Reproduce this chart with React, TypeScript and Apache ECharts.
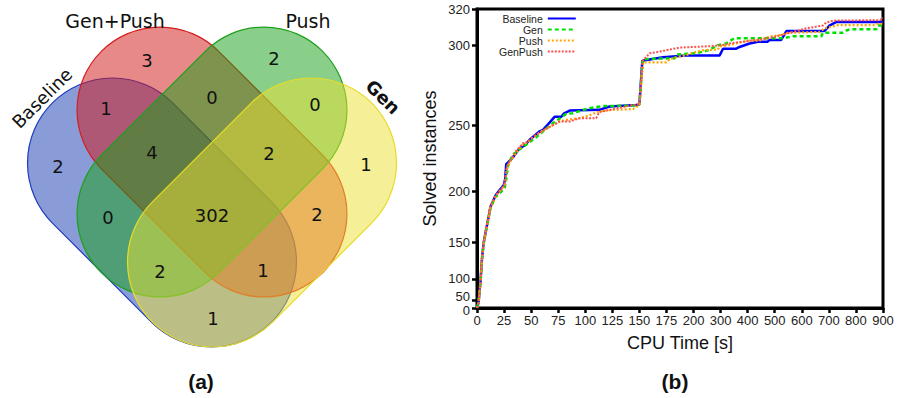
import React, { useEffect, useRef } from 'react';
import * as echarts from 'echarts';

// ---------- data: line chart (b) ----------
const cpuTimeTickLabels = ['0', '25', '50', '75', '100', '125', '150', '175', '200', '300', '400', '500', '600', '700', '800', '900'];
const solvedTickValues = [0, 50, 100, 150, 200, 250, 300, 320];
const seriesNames = ['Baseline', 'Gen', 'Push', 'GenPush'];

// [CPU time (s), solved instances]
const baselineData: [number, number][] = [
  [0, 0], [0.5, 25], [1.5, 45], [2.5, 80], [3.2, 95], [4.6, 130], [6, 148], [7.8, 160], [10.8, 177], [12.4, 186],
  [17, 196], [20, 200], [24.6, 205], [26, 210], [27, 222], [30.8, 225], [35, 229], [39.4, 234], [44, 236], [48.6, 240],
  [57.9, 246], [61, 247], [67, 252], [71.8, 256], [78, 256], [80, 258], [85.6, 260], [113, 260.5], [122.5, 262.7],
  [147, 263.7], [150, 264], [152.7, 291], [171.8, 293], [193, 294], [296, 294], [309, 298], [358, 298], [370, 299],
  [407, 301], [438, 302], [474, 302], [481, 303], [524, 303], [543, 308], [684, 308], [702, 311], [728, 313], [900, 313],
];
const genData: [number, number][] = [
  [0, 0], [0.5, 28], [1.5, 48], [2.5, 78], [3.2, 93], [4.6, 128], [6, 147], [7.8, 160], [10.8, 176], [12.4, 185],
  [17, 195], [20, 197], [25.6, 203], [27, 210], [28.6, 221], [33, 229], [39.4, 233], [48, 238], [55, 242], [61, 246],
  [70, 251.6], [77, 255], [82.6, 258], [88, 258.3], [104, 261.6], [116, 263], [148, 263.3], [150, 264], [153, 292],
  [182.6, 292.4], [184, 294.6], [212, 295.4], [256, 297.2], [290, 300], [320, 301], [351, 304], [530, 304], [567, 305],
  [672, 305], [678, 307], [752, 307], [765, 308.3], [778, 309], [875, 309], [881, 311], [900, 311],
];
const pushData: [number, number][] = [
  [0, 0], [0.5, 24], [1.5, 44], [2.5, 78], [3.2, 94], [4.6, 129], [6, 147], [7.8, 159], [10.8, 176], [12.4, 185],
  [17, 195], [20, 199], [24.6, 204], [26, 207], [27.5, 218], [30.8, 224], [35, 229], [41.5, 236], [48, 239], [51.7, 242],
  [60, 246], [67, 249], [76.4, 252.7], [82.6, 253.8], [94.8, 255], [104, 257], [113, 259.5], [125, 260.5], [144, 261],
  [148, 262.7], [150, 264], [153.3, 290], [175, 290], [178, 292], [193.4, 294.4], [212, 296.3], [239, 297.2], [290, 297.5],
  [296, 299.2], [333, 300.1], [370, 301.5], [407, 302.6], [444, 302.6], [481, 305], [524, 305.8], [549, 307], [666, 307.5],
  [684, 309.5], [715, 310.5], [733, 311.3], [870, 311.3], [880, 312], [900, 312],
];
const genPushData: [number, number][] = [
  [0, 0], [0.5, 26], [1.5, 46], [2.5, 80], [3.2, 95], [4.6, 131], [6, 149], [7.8, 161], [10.8, 178], [12.4, 187],
  [17, 196], [20, 199], [24.6, 204], [26, 209], [27.5, 220], [30.8, 225], [35, 231], [42.5, 237.5], [48, 239], [51.7, 242],
  [60, 246], [67, 249], [76.4, 252.7], [85.6, 252.7], [94.8, 255], [110, 255], [113, 259], [122.5, 260.5], [144, 263.7],
  [150, 264], [153, 291], [159.5, 295.4], [165.7, 296], [187, 298.6], [256, 299.4], [309, 300.1], [333, 301], [383, 302],
  [432, 303], [480, 304], [530, 306], [617, 309.5], [678, 311], [690, 312.6], [715, 313.7], [890, 314], [895, 315], [900, 315],
];

// ---------- data: Venn diagram (a) ----------
const vennSetNames = ['Baseline', 'Gen+Push', 'Push', 'Gen'];
// region counts, in order: GP, P, B∩GP, GP∩P, P∩G, B, B∩GP∩P, GP∩P∩G, G, B∩P, all, GP∩G, B∩P∩G, B∩GP∩G, B∩G
const vennCounts = [3, 2, 1, 0, 0, 2, 4, 2, 1, 0, 302, 2, 2, 1, 1];

// ---------- scales ----------
const timeToAxis = (t: number) => (t <= 200 ? t / 25 : 8 + (t - 200) / 100);
const solvedToAxis = (v: number) => v * v;

const FONT = '"Liberation Sans", Arial, sans-serif';
const VFONT = '"DejaVu Sans", sans-serif';

export default function App() {
  const ref = useRef<HTMLDivElement>(null);
  useEffect(() => {
    if (!ref.current) return;
    const chart = echarts.init(ref.current, undefined, { renderer: 'svg' });

    const seriesData = [baselineData, genData, pushData, genPushData];
    const styles = [
      { color: '#0000ff', width: 2.5, type: 'solid' as any },
      { color: '#00e000', width: 2.5, type: [4, 3] as any },
      { color: '#ffa500', width: 2.2, type: [2, 2] as any },
      { color: '#ff5050', width: 2, type: [2, 1.5] as any },
    ];

    const capsule = (cx: number, cy: number, len: number, r: number, rot: number, fill: string, stroke: string, z: number) => ({
      type: 'rect',
      x: cx,
      y: cy,
      rotation: rot,
      z,
      shape: { x: -len / 2 - r, y: -r, width: len + 2 * r, height: 2 * r, r },
      style: { fill, stroke, lineWidth: 1.2 },
      silent: true,
    });

    const vennPos: [number, number][] = [
      [147, 60], [274, 58], [106, 108], [212, 97], [315, 104], [58, 166], [152, 152], [269, 153],
      [366, 164], [108, 217], [212, 215], [317, 214], [160, 271], [263, 270], [213, 318],
    ];

    const txt = (x: number, y: number, text: string, font: string, rot = 0, z = 20) => ({
      type: 'text',
      x,
      y,
      rotation: rot,
      z,
      silent: true,
      style: { text, font, fill: '#111', align: 'center', verticalAlign: 'middle', textAlign: 'center', textVerticalAlign: 'middle' },
    });

    const graphics: any[] = [
      capsule(162, 212.5, 140, 85, -Math.PI / 4, 'rgba(21,57,177,0.5)', 'rgb(30,60,190)', 1),
      capsule(212, 162, 147, 83, -Math.PI / 4, 'rgba(209,19,19,0.5)', 'rgb(210,30,30)', 2),
      capsule(212, 162, 147, 83, Math.PI / 4, 'rgba(19,159,19,0.5)', 'rgb(30,160,30)', 3),
      capsule(262, 212.5, 140, 85, Math.PI / 4, 'rgba(235,225,49,0.5)', 'rgb(230,220,40)', 4),
      txt(42, 98, vennSetNames[0], `18px ${VFONT}`, Math.PI / 4),
      txt(115, 21, vennSetNames[1], `19px ${VFONT}`),
      txt(308, 21, vennSetNames[2], `19px ${VFONT}`),
      txt(383, 97, vennSetNames[3], `bold 18px ${VFONT}`, -Math.PI / 4),
      ...vennCounts.map((c, i) => txt(vennPos[i][0], vennPos[i][1], String(c), `18px ${VFONT}`)),
      txt(201, 381, '(a)', `bold 21px ${FONT}`),
      txt(675, 381, '(b)', `bold 21px ${FONT}`),
    ];

    const yTicks = solvedTickValues.map(solvedToAxis);
    const yLabelTicks = yTicks.filter((v) => v > 0);
    const yMax = solvedToAxis(320);
    const labelBase = { fontSize: 13, fontFamily: FONT, color: '#222' };

    chart.setOption({
      animation: false,
      backgroundColor: '#fff',
      grid: {
        left: 477, right: 16, top: 9, bottom: 90,
        show: true, borderColor: '#000', borderWidth: 3, backgroundColor: 'transparent',
      },
      legend: {
        orient: 'vertical',
        align: 'right',
        left: 499,
        top: 13,
        padding: 0,
        itemWidth: 28,
        itemHeight: 10,
        itemGap: 0,
        data: seriesNames,
        itemStyle: { opacity: 0, borderWidth: 0 },
        textStyle: { fontSize: 10.5, fontFamily: FONT, color: '#222', lineHeight: 10 },
      },
      xAxis: {
        type: 'value',
        min: 0,
        max: 15,
        interval: 1,
        name: 'CPU Time [s]',
        nameLocation: 'middle',
        nameGap: 26,
        nameTextStyle: { fontSize: 18, fontFamily: FONT, color: '#111' },
        axisLine: { show: true, lineStyle: { color: '#000', width: 3 } },
        axisTick: { show: true, length: 5, lineStyle: { color: '#000', width: 2.5 } },
        axisLabel: {
          ...labelBase, margin: 6,
          formatter: (v: number) => cpuTimeTickLabels[Math.round(v)] ?? '',
        },
        splitLine: { show: false },
      },
      yAxis: [
        {
          type: 'value',
          min: 0,
          max: yMax,
          position: 'left',
          name: 'Solved instances',
          nameLocation: 'middle',
          nameGap: 38,
          nameTextStyle: { fontSize: 18, fontFamily: FONT, color: '#111' },
          axisLine: { show: true, lineStyle: { color: '#000', width: 3 } },
          axisTick: { show: true, length: 5, customValues: yTicks, lineStyle: { color: '#000', width: 2.5 } },
          axisLabel: {
            ...labelBase, margin: 7,
            customValues: yLabelTicks,
            formatter: (v: number) => {
              const n = Math.round(Math.sqrt(v));
              return n === 50 ? `{up|${n}}` : String(n);
            },
            rich: { up: { ...labelBase, lineHeight: 11, padding: [0, 0, 8, 0] } },
          },
          splitLine: { show: false },
        },
        {
          type: 'value',
          min: 0,
          max: yMax,
          position: 'left',
          offset: 0,
          axisLine: { show: false },
          axisTick: { show: false },
          splitLine: { show: false },
          axisLabel: {
            ...labelBase, margin: 7,
            customValues: [solvedToAxis(0)],
            formatter: (v: number) => `{dn|${Math.round(Math.sqrt(v))}}`,
            rich: { dn: { ...labelBase, lineHeight: 11, padding: [5, 0, 0, 0] } },
          },
        },
      ],
      graphic: graphics,
      series: seriesNames.map((name, i) => ({
        name,
        type: 'line',
        symbol: 'none',
        showSymbol: false,
        data: seriesData[i].map(([t, v]) => [timeToAxis(t), solvedToAxis(v)]),
        lineStyle: styles[i],
        itemStyle: { color: styles[i].color },
        z: 2 + i,
      })),
    });
    return () => chart.dispose();
  }, []);
  return <div ref={ref} style={{ position: 'absolute', left: 0, top: 0, width: 899, height: 398 }} />;
}
